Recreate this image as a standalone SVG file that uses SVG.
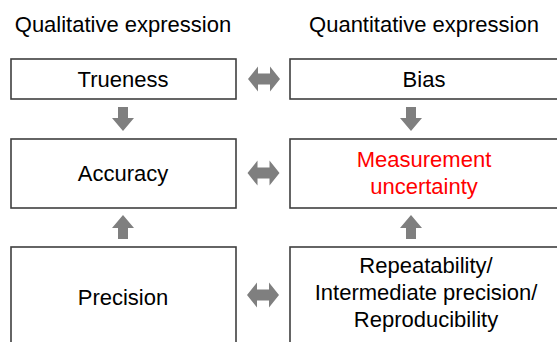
<svg xmlns="http://www.w3.org/2000/svg" width="557" height="342" viewBox="0 0 557 342">
<style>
.box{fill:#fff;stroke:#3f3f3f;stroke-width:1.6}
.t{font-family:"Liberation Sans",Arial,sans-serif;font-size:22px;fill:#000;text-anchor:middle}
.red{fill:#ff0000}
.arr{fill:#7f7f7f}
</style>
<defs>
<path id="dbl" d="M-16,0 L-6,-12.5 L-6,-5.5 L6,-5.5 L6,-12.5 L16,0 L6,12.5 L6,5.5 L-6,5.5 L-6,12.5 Z"/>
<path id="down" d="M-5,-12 L5,-12 L5,-1 L11,-1 L0,12 L-11,-1 L-5,-1 Z"/>
</defs>
<rect width="557" height="342" fill="#fff"/>
<text class="t" x="123" y="32">Qualitative expression</text>
<text class="t" x="424" y="32">Quantitative expression</text>
<g id="trueness"><rect class="box" x="11" y="59" width="225" height="40"/><text class="t" x="123" y="87">Trueness</text></g>
<g id="bias"><rect class="box" x="290" y="59" width="280" height="40"/><text class="t" x="424" y="87">Bias</text></g>
<g id="accuracy"><rect class="box" x="11" y="139" width="225" height="69"/><text class="t" x="123" y="181">Accuracy</text></g>
<g id="uncertainty"><rect class="box" x="290" y="139" width="280" height="69"/><text class="t red" x="424" y="167">Measurement</text><text class="t red" x="424" y="194">uncertainty</text></g>
<g id="precision"><rect class="box" x="11" y="247" width="225" height="110"/><text class="t" x="123" y="305">Precision</text></g>
<g id="repeatability"><rect class="box" x="290" y="247" width="280" height="110"/><text class="t" x="426" y="273">Repeatability/</text><text class="t" x="426" y="300">Intermediate precision/</text><text class="t" x="426" y="327">Reproducibility</text></g>
<g id="connectors" class="arr">
<use href="#dbl" x="264" y="79"/>
<use href="#dbl" x="263.5" y="173"/>
<use href="#dbl" x="263" y="295"/>
<use href="#down" x="123" y="119"/>
<use href="#down" x="411" y="119"/>
<use href="#down" transform="translate(123,227) scale(1,-1)"/>
<use href="#down" transform="translate(411,227) scale(1,-1)"/>
</g>
</svg>
